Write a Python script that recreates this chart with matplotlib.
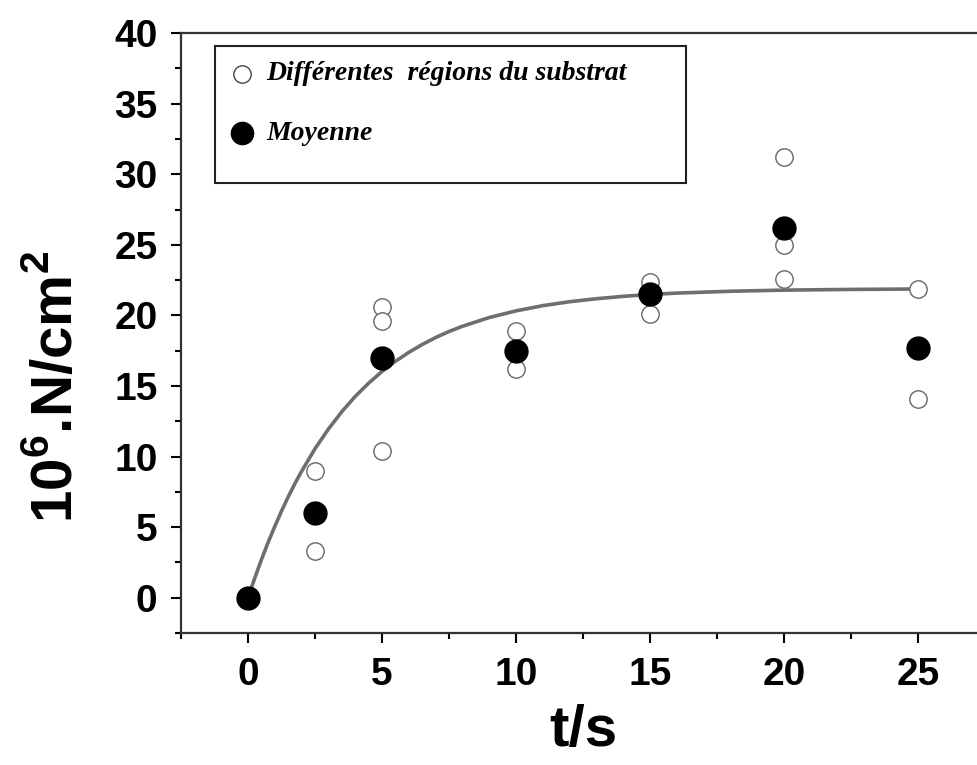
import numpy as np
import matplotlib.pyplot as plt
from matplotlib.patches import Rectangle
from matplotlib.ticker import MultipleLocator

# Individual regions of the substrate (open circles)
t_regions = [2.5, 2.5, 5, 5, 5, 10, 10, 15, 15, 20, 20, 20, 25, 25]
f_regions = [9.0, 3.3, 20.6, 19.6, 10.4, 18.9, 16.2, 22.4, 20.1, 31.2, 25.0, 22.6, 21.9, 14.1]

# Mean values (filled circles)
t_mean = [0, 2.5, 5, 10, 15, 20, 25]
f_mean = [0.0, 6.0, 17.0, 17.5, 21.5, 26.2, 17.7]

# Fitted curve
t_fit = [0, 0.25, 0.5, 0.75, 1, 1.25, 1.5, 1.75, 2, 2.5, 3, 3.5, 4, 4.5, 5, 5.5, 6, 6.5,
         7, 7.5, 8, 9, 10, 11, 12, 13, 14, 15, 16, 18, 20, 22.5, 25]
f_fit = [0, 1.39, 2.70, 3.92, 5.06, 6.14, 7.15, 8.09, 8.96, 10.56, 11.95, 13.18, 14.26,
         15.20, 16.03, 16.75, 17.38, 17.94, 18.43, 18.86, 19.23, 19.85, 20.32, 20.69,
         20.97, 21.18, 21.35, 21.48, 21.58, 21.71, 21.79, 21.84, 21.87]

plt.rcParams['font.family'] = ['Liberation Sans', 'DejaVu Sans']
plt.rcParams['mathtext.fontset'] = 'custom'
plt.rcParams['mathtext.bf'] = 'Liberation Sans:bold'
plt.rcParams['mathtext.rm'] = 'Liberation Sans:bold'

fig = plt.figure(figsize=(9.78, 7.65), dpi=100)
ax = fig.add_axes([0.1851, 0.1725, 0.8221, 0.7843])

ax.plot(t_fit, f_fit, color='#6e6e6e', lw=2.6, zorder=1)
ax.plot(t_regions, f_regions, 'o', ms=12.5, mfc='white', mec='#666666', mew=1.0, zorder=2)
ax.plot(t_mean, f_mean, 'o', ms=16.5, mfc='black', mec='black', zorder=3)

ax.set_xlim(-2.5, 27.5)
ax.set_ylim(-2.5, 40)
ax.xaxis.set_major_locator(MultipleLocator(5))
ax.xaxis.set_minor_locator(MultipleLocator(2.5))
ax.yaxis.set_major_locator(MultipleLocator(5))
ax.yaxis.set_minor_locator(MultipleLocator(2.5))
ax.set_xticks([0, 5, 10, 15, 20, 25])

for s in ['left', 'bottom', 'top']:
    ax.spines[s].set_linewidth(1.6)
    ax.spines[s].set_color('#333333')
ax.spines['right'].set_visible(False)

ax.tick_params(which='major', direction='out', length=7, width=1.5, labelsize=28, pad=10)
ax.tick_params(which='minor', direction='out', length=4, width=1.5)
for lab in ax.get_xticklabels() + ax.get_yticklabels():
    lab.set_fontweight('bold')

ax.set_xlabel('t/s', fontsize=42, fontweight='bold')
ax.xaxis.set_label_coords(0.5, -0.118)
ax.set_ylabel(r'10$^{6}$.N/cm$^{2}$', fontsize=42, fontweight='bold')
ax.yaxis.set_label_coords(-0.119, 0.41)

# Legend box drawn by hand to keep the extra space below the entries
ax.add_patch(Rectangle((0.0423, 0.75), 0.586, 0.228, transform=ax.transAxes,
                       fill=True, facecolor='white', edgecolor='#222222', lw=1.5, zorder=4))
ax.plot([0.0759], [0.932], 'o', ms=12.5, mfc='white', mec='#444444', mew=1.0,
        transform=ax.transAxes, zorder=5, clip_on=False)
ax.plot([0.0759], [0.833], 'o', ms=16, mfc='black', mec='black',
        transform=ax.transAxes, zorder=5, clip_on=False)
ax.text(0.106, 0.932, 'Différentes  régions du substrat', transform=ax.transAxes,
        family='Liberation Serif', style='italic', weight='bold', fontsize=20,
        va='center', ha='left', zorder=6)
ax.text(0.106, 0.833, 'Moyenne', transform=ax.transAxes,
        family='Liberation Serif', style='italic', weight='bold', fontsize=20,
        va='center', ha='left', zorder=6)

fig.savefig('out.png', dpi=100, facecolor='white')
